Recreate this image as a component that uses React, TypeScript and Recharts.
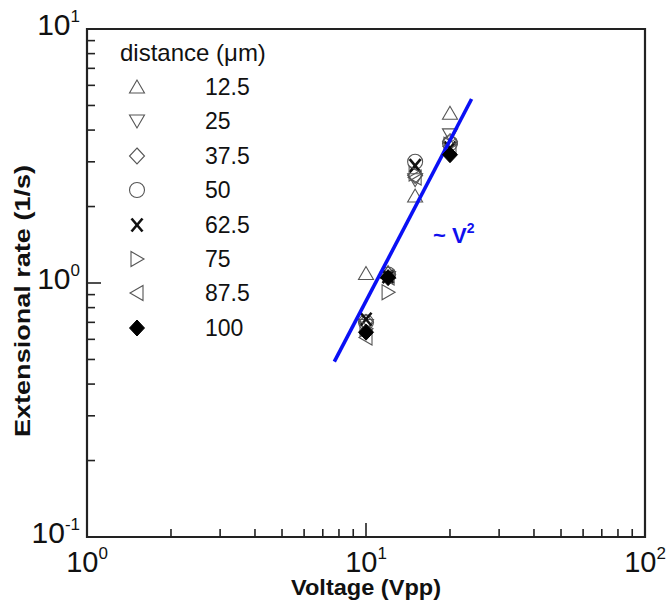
import React from 'react';
import { ScatterChart, Scatter, XAxis, YAxis, ReferenceDot, ReferenceArea, Label } from 'recharts';

// ---- data ----
const voltages = [10, 12, 15, 20];
const distances = ['12.5', '25', '37.5', '50', '62.5', '75', '87.5', '100'];
const rate12_5 = [1.09, 1.1, 2.2, 4.66];
const rate25 = [0.68, 1.05, 2.55, 3.83];
const rate37_5 = [0.7, 1.08, 2.65, 3.6];
const rate50 = [0.7, 1.08, 3.0, 3.55];
const rate62_5 = [0.72, 1.06, 2.9, 3.4];
const rate75 = [0.66, 0.92, 2.7, 3.5];
const rate87_5 = [0.61, 1.05, 2.6, 3.45];
const rate100 = [0.64, 1.05, null, 3.2];
const fitVoltage = [7.7, 23.9];
const fitRate = [0.49, 5.3];
const xTicks = [1, 2, 3, 4, 5, 6, 7, 8, 9, 10, 20, 30, 40, 50, 60, 70, 80, 90, 100];
const yTicks = [0.1, 0.2, 0.3, 0.4, 0.5, 0.6, 0.7, 0.8, 0.9, 1, 2, 3, 4, 5, 6, 7, 8, 9, 10];
const xMajor = [1, 10, 100];
const xMajorExp = ['0', '1', '2'];
const yMajor = [0.1, 1, 10];
const yMajorExp = ['-1', '0', '1'];
const legendTitle = 'distance (\u03bcm)';
const fitLabel = '~ V';
const fitLabelSup = '2';
const fitLabelPos = { x: 17.4, y: 1.55 };

const seriesRates: (number | null)[][] = [rate12_5, rate25, rate37_5, rate50, rate62_5, rate75, rate87_5, rate100];
const markerKinds = ['up', 'down', 'diamond', 'circle', 'x', 'right', 'left', 'fdiamond'];

const FONT = '"Liberation Sans", Arial, Helvetica, sans-serif';
const GRAY = '#555';

function Marker({ kind, cx, cy }: { kind: string; cx: number; cy: number }) {
  const sw = 1.1;
  switch (kind) {
    case 'up':
      return <polygon points={`${cx},${cy - 7} ${cx - 7.5},${cy + 6} ${cx + 7.5},${cy + 6}`} fill="none" stroke={GRAY} strokeWidth={sw} />;
    case 'down':
      return <polygon points={`${cx},${cy + 7} ${cx - 7.5},${cy - 6} ${cx + 7.5},${cy - 6}`} fill="none" stroke={GRAY} strokeWidth={sw} />;
    case 'diamond':
      return <polygon points={`${cx},${cy - 8} ${cx + 7.5},${cy} ${cx},${cy + 8} ${cx - 7.5},${cy}`} fill="none" stroke={GRAY} strokeWidth={sw} />;
    case 'circle':
      return <circle cx={cx} cy={cy} r={7.5} fill="none" stroke={GRAY} strokeWidth={sw} />;
    case 'x':
      return (
        <g stroke="#111" strokeWidth={2.6} strokeLinecap="butt">
          <line x1={cx - 5.5} y1={cy - 6.5} x2={cx + 5.5} y2={cy + 6.5} />
          <line x1={cx + 5.5} y1={cy - 6.5} x2={cx - 5.5} y2={cy + 6.5} />
        </g>
      );
    case 'right':
      return <polygon points={`${cx - 6},${cy - 7.5} ${cx + 7},${cy} ${cx - 6},${cy + 7.5}`} fill="none" stroke={GRAY} strokeWidth={sw} />;
    case 'left':
      return <polygon points={`${cx + 6},${cy - 7.5} ${cx - 7},${cy} ${cx + 6},${cy + 7.5}`} fill="none" stroke={GRAY} strokeWidth={sw} />;
    case 'fdiamond':
      return <polygon points={`${cx},${cy - 8} ${cx + 7.5},${cy} ${cx},${cy + 8} ${cx - 7.5},${cy}`} fill="#000" stroke="#000" strokeWidth={1} />;
    default:
      return <g />;
  }
}

const XTick = (props: any) => {
  const { x, y, payload } = props;
  const v = payload.value;
  const mi = xMajor.indexOf(v);
  const len = mi >= 0 ? 14 : 8;
  return (
    <g>
      <line x1={x} y1={y} x2={x} y2={y - len} stroke="#222" strokeWidth={1.6} />
      {mi >= 0 && (
        <text x={x} y={y + 35} textAnchor="middle" fontSize={29} fontFamily={FONT} fill="#111">
          10<tspan dy={-13} fontSize={17}>{xMajorExp[mi]}</tspan>
        </text>
      )}
    </g>
  );
};

const YTick = (props: any) => {
  const { x, y, payload } = props;
  const v = payload.value;
  const mi = yMajor.findIndex((m) => Math.abs(m - v) < 1e-9);
  const len = mi >= 0 ? 14 : 8;
  return (
    <g>
      <line x1={x} y1={y} x2={x + len} y2={y} stroke="#222" strokeWidth={1.6} />
      {mi >= 0 && (
        <text x={x - 7} y={y + 6} textAnchor="end" fontSize={30} fontFamily={FONT} fill="#111">
          10<tspan dy={-13} fontSize={17}>{yMajorExp[mi]}</tspan>
        </text>
      )}
    </g>
  );
};

const LegendBlock = () => (
  <div style={{ position: 'absolute', left: 0, top: 0, width: 300, height: 360, fontFamily: FONT, color: '#111', pointerEvents: 'none' }}>
    <div style={{ position: 'absolute', left: 120, top: 53 - 15, fontSize: 24, lineHeight: '30px', whiteSpace: 'nowrap' }}>{legendTitle}</div>
    {distances.map((d, i) => {
      const cy = 87 + i * 34.4;
      return (
        <React.Fragment key={d}>
          <svg style={{ position: 'absolute', left: 127, top: cy - 10 }} width={20} height={20}>
            <Marker kind={markerKinds[i]} cx={10} cy={10} />
          </svg>
          <div style={{ position: 'absolute', left: 205, top: cy - 15, fontSize: 23, lineHeight: '30px', whiteSpace: 'nowrap' }}>{d}</div>
        </React.Fragment>
      );
    })}
  </div>
);

export default function App() {
  const fitData = fitVoltage.map((v, i) => ({ x: v, y: fitRate[i] }));
  const pts = (rates: (number | null)[]) =>
    voltages.map((v, i) => ({ x: v, y: rates[i] })).filter((p) => p.y !== null);
  return (
    <div style={{ position: 'absolute', left: 0, top: 0, width: 669, height: 601, background: '#fff' }}>
      <ScatterChart width={669} height={601} margin={{ top: 29, right: 24, bottom: 0, left: 0 }}>
        <XAxis
          dataKey="x"
          type="number"
          scale="log"
          domain={[1, 100]}
          ticks={xTicks}
          interval={0}
          allowDataOverflow
          height={64}
          tickSize={0}
          tickMargin={0}
          axisLine={false}
          tickLine={false}
          tick={<XTick />}
        >
          <Label
            content={(p: any) => {
              const vb = p.viewBox;
              return (
                <text
                  x={vb.x + vb.width / 2}
                  y={vb.y + 58}
                  textAnchor="middle"
                  fontSize={22}
                  fontWeight="bold"
                  fontFamily={FONT}
                  fill="#111"
                  textLength={150}
                  lengthAdjust="spacingAndGlyphs"
                >
                  Voltage (Vpp)
                </text>
              );
            }}
          />
        </XAxis>
        <YAxis
          dataKey="y"
          type="number"
          scale="log"
          domain={[0.1, 10]}
          ticks={yTicks}
          interval={0}
          allowDataOverflow
          width={87}
          tickSize={0}
          tickMargin={0}
          axisLine={false}
          tickLine={false}
          tick={<YTick />}
        >
          <Label
            content={(p: any) => {
              const vb = p.viewBox;
              const cx = 22;
              const cy = vb.y + vb.height / 2 + 18;
              return (
                <text
                  x={cx}
                  y={cy}
                  transform={`rotate(-90, ${cx}, ${cy})`}
                  textAnchor="middle"
                  dominantBaseline="central"
                  fontSize={22}
                  fontWeight="bold"
                  fontFamily={FONT}
                  fill="#111"
                  textLength={272}
                  lengthAdjust="spacingAndGlyphs"
                >
                  Extensional rate (1/s)
                </text>
              );
            }}
          />
        </YAxis>
        <ReferenceArea x1={1} x2={100} y1={0.1} y2={10} fill="none" stroke="#222" strokeWidth={2.2} ifOverflow="visible" />
        {seriesRates.slice(0, 7).map((rates, si) => (
          <Scatter
            key={distances[si]}
            name={distances[si]}
            data={pts(rates)}
            isAnimationActive={false}
            shape={(p: any) => <Marker kind={markerKinds[si]} cx={p.cx} cy={p.cy} />}
          />
        ))}
        <Scatter
          name="fit"
          data={fitData}
          isAnimationActive={false}
          line={{ stroke: '#0a10f5', strokeWidth: 3.6 }}
          shape={() => <g />}
        />
        <Scatter
          name={distances[7]}
          data={pts(rate100)}
          isAnimationActive={false}
          shape={(p: any) => <Marker kind={markerKinds[7]} cx={p.cx} cy={p.cy} />}
        />
        <ReferenceDot
          x={fitLabelPos.x}
          y={fitLabelPos.y}
          r={1}
          fill="none"
          stroke="none"
          label={(p: any) => {
            const vb = p.viewBox;
            const x = vb.x + (vb.width || 0) / 2;
            const y = vb.y + (vb.height || 0) / 2;
            return (
              <text x={x} y={y + 8} fontSize={22} fontWeight="bold" fontFamily={FONT} fill="#1010ee">
                {fitLabel}
                <tspan dy={-10} fontSize={14}>{fitLabelSup}</tspan>
              </text>
            );
          }}
        />
      </ScatterChart>
      <LegendBlock />
    </div>
  );
}
